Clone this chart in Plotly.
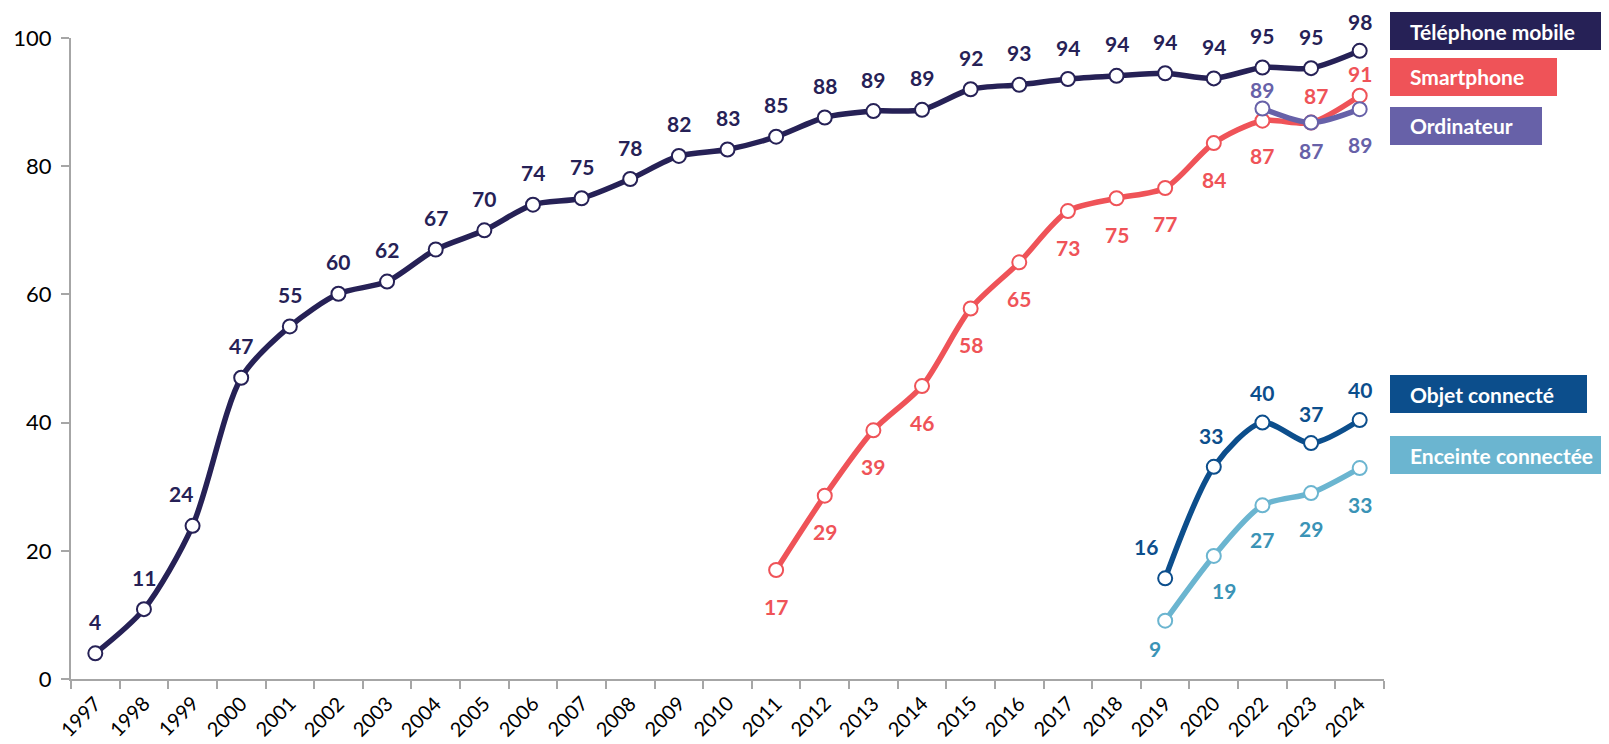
import plotly.graph_objects as go

# ---------------------------------------------------------------------------
# Data (percent of people equipped)
# ---------------------------------------------------------------------------

YEARS = [
    "1997", "1998", "1999", "2000", "2001", "2002", "2003", "2004", "2005",
    "2006", "2007", "2008", "2009", "2010", "2011", "2012", "2013", "2014",
    "2015", "2016", "2017", "2018", "2019", "2020", "2022", "2023", "2024",
]

MOBILE = [
    4.0, 10.9, 23.9, 47.0, 55.0, 60.1, 62.0, 67.0, 70.0, 74.0, 75.0, 78.0,
    81.6, 82.6, 84.6, 87.6, 88.6, 88.8, 92.0, 92.7, 93.6, 94.1, 94.5, 93.7,
    95.4, 95.3, 98.0,
]

SMARTPHONE_YEARS = ["2011", "2012", "2013", "2014", "2015", "2016", "2017",
                    "2018", "2019", "2020", "2022", "2023", "2024"]
SMARTPHONE = [17.0, 28.6, 38.8, 45.7, 57.8, 65.0, 73.0, 75.0, 76.6, 83.6,
              87.1, 86.8, 91.0]

COMPUTER_YEARS = ["2022", "2023", "2024"]
COMPUTER = [89.0, 86.8, 88.9]

CONNECTED_YEARS = ["2019", "2020", "2022", "2023", "2024"]
CONNECTED_OBJECT = [15.7, 33.1, 40.0, 36.8, 40.4]
SMART_SPEAKER = [9.1, 19.2, 27.1, 29.0, 32.9]

# ---------------------------------------------------------------------------
# Styling
# ---------------------------------------------------------------------------

FONT = "Lato, 'Open Sans', sans-serif"
AXIS_GREY = "#A6A6A6"

# the page body adds an 8px margin around the figure div
PAGE_OFFSET = 8
SCREEN_W, SCREEN_H = 1609, 744
W, H = SCREEN_W - PAGE_OFFSET, SCREEN_H - PAGE_OFFSET

# plot area edges in screen pixels
X_LEFT, X_RIGHT = 71, 1384
Y_TOP, Y_BOTTOM = 38, 679

M_L = X_LEFT - PAGE_OFFSET
M_T = Y_TOP - PAGE_OFFSET
M_R = W - (X_RIGHT - PAGE_OFFSET)
M_B = H - (Y_BOTTOM - PAGE_OFFSET)


def paper_x(px):
    return (px - X_LEFT) / (X_RIGHT - X_LEFT)


def paper_y(py):
    return (Y_BOTTOM - py) / (Y_BOTTOM - Y_TOP)


SERIES = [
    dict(name="Téléphone mobile", x=YEARS, y=MOBILE,
         line="#262156", label="#262156",
         shifts=[(0, 32)] * 2 + [(-12, 32)] + [(0, 32)] * 23 + [(0, 29)],
         box=(12, 50, 1615)),
    dict(name="Smartphone", x=SMARTPHONE_YEARS, y=SMARTPHONE,
         line="#EF5358", label="#EF5358",
         shifts=[(0, -36)] * 10 + [(0, -35), (5, 27), (0, 22)],
         box=(58, 96, 1557)),
    dict(name="Ordinateur", x=COMPUTER_YEARS, y=COMPUTER,
         line="#6761A8", label="#6761A8",
         shifts=[(0, 19), (0, -28), (0, -35)],
         box=(107, 145, 1542)),
    dict(name="Objet connecté", x=CONNECTED_YEARS, y=CONNECTED_OBJECT,
         line="#0C4E8C", label="#0C4E8C",
         shifts=[(-19, 32), (-3, 31), (0, 30), (0, 30), (0, 31)],
         box=(375, 413, 1587)),
    dict(name="Enceinte connectée", x=CONNECTED_YEARS, y=SMART_SPEAKER,
         line="#6BB5D0", label="#3A93B6",
         shifts=[(-10, -28), (10, -35), (0, -34), (0, -35), (0, -36)],
         box=(436, 474, 1615)),
]

fig = go.Figure()
annotations = []
shapes = []

for s in SERIES:
    fig.add_trace(go.Scatter(
        x=s["x"], y=s["y"], name=s["name"], mode="lines+markers",
        line=dict(color=s["line"], width=5.5, shape="spline", smoothing=0.8),
        marker=dict(size=14, color="white", line=dict(color=s["line"], width=2)),
        cliponaxis=False, showlegend=False,
    ))
    # value labels: annotations on a category axis take the category index
    for xv, yv, (dx, dy) in zip(s["x"], s["y"], s["shifts"]):
        annotations.append(dict(
            x=YEARS.index(xv), y=yv, xref="x", yref="y", text=f"{yv:.0f}",
            showarrow=False, xshift=dx, yshift=dy,
            font=dict(family=FONT, size=21, color=s["label"], weight="bold"),
        ))
    top, bottom, right = s["box"]
    shapes.append(dict(
        type="rect", xref="paper", yref="paper",
        x0=paper_x(1390), x1=paper_x(right), y0=paper_y(bottom), y1=paper_y(top),
        fillcolor=s["line"], line=dict(width=0),
    ))
    annotations.append(dict(
        x=paper_x(1408), y=paper_y((top + bottom) / 2), xref="paper", yref="paper",
        xanchor="left", yanchor="middle", text=s["name"], showarrow=False,
        font=dict(family=FONT, size=21, color="white", weight="bold"),
    ))

# slanted year labels under each category (Excel-style placement)
for i, year in enumerate(YEARS):
    annotations.append(dict(
        x=i, y=0, xref="x", yref="y", text=year, showarrow=False,
        textangle=-45, xshift=-15, yshift=-37,
        font=dict(family=FONT, size=20, color="black"),
    ))

fig.update_layout(
    width=W, height=H,
    margin=dict(l=M_L, r=M_R, t=M_T, b=M_B),
    paper_bgcolor="white", plot_bgcolor="white",
    font=dict(family=FONT, size=20, color="black"),
    annotations=annotations, shapes=shapes,
    showlegend=False,
)
fig.update_xaxes(
    type="category", categoryorder="array", categoryarray=YEARS,
    range=[-0.5, len(YEARS) - 0.5], tickson="boundaries",
    ticks="outside", ticklen=8, tickcolor=AXIS_GREY, tickwidth=1.5,
    showline=True, linecolor=AXIS_GREY, linewidth=2,
    showgrid=False, showticklabels=False, automargin=False,
)
fig.update_yaxes(
    range=[0, 100], tickvals=[0, 20, 40, 60, 80, 100],
    ticks="outside", ticklen=8, tickcolor=AXIS_GREY, tickwidth=1.5,
    showline=True, linecolor=AXIS_GREY, linewidth=2,
    showgrid=False, zeroline=False, ticklabelstandoff=5,
    tickfont=dict(size=22), automargin=False,
)

fig.write_html("out.html")
